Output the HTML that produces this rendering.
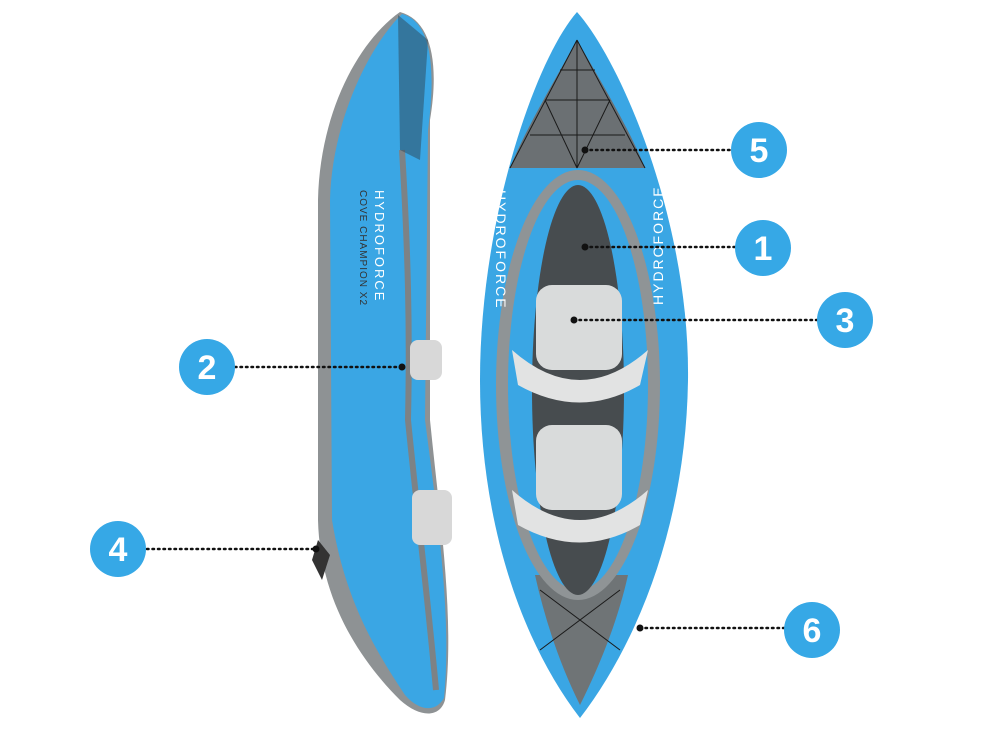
<!DOCTYPE html>
<html><head><style>html,body{margin:0;padding:0;background:#fff;width:1000px;height:750px;overflow:hidden}</style></head>
<body>
<svg width="1000" height="750" viewBox="0 0 1000 750" xmlns="http://www.w3.org/2000/svg" font-family="Liberation Sans, sans-serif">
<!-- Side kayak -->
<path d="M400,12 C430,20 440,60 430,120 L430,420 C440,520 455,620 445,700 C440,718 420,718 400,700 C360,660 320,600 318,520 L318,200 C320,110 360,40 400,12 Z" fill="#8e9294"/>
<path d="M402,14 C432,22 436,70 428,130 L425,420 C438,520 452,620 444,698 C436,712 420,712 405,695 C375,650 345,600 332,520 L330,200 C332,120 370,45 402,14 Z" fill="#3aa6e4"/>
<path d="M402,150 C408,250 410,330 408,420 C418,520 428,600 436,690" stroke="#7d8285" stroke-width="6" fill="none"/>
<path d="M398,15 L428,40 L420,160 L400,150 Z" fill="#2f4e62" opacity="0.55"/>
<rect x="410" y="340" width="32" height="40" rx="8" fill="#d8d8d8"/>
<rect x="412" y="490" width="40" height="55" rx="8" fill="#d8d8d8"/>
<path d="M318,540 L312,560 L322,580 L330,555 Z" fill="#333"/>
<text transform="translate(375,190) rotate(90)" fill="#fff" font-size="13" letter-spacing="2">HYDROFORCE</text>
<text transform="translate(360,190) rotate(90)" fill="#333" font-size="10" letter-spacing="1">COVE CHAMPION X2</text>
<!-- Top kayak -->
<path d="M577,12 C620,60 690,220 688,380 C686,520 640,640 580,718 C520,640 480,520 480,380 C480,220 535,60 577,12 Z" fill="#3aa6e4"/>
<path d="M577,40 C600,80 630,130 645,168 L510,168 C525,130 555,80 577,40 Z" fill="#6b7073"/>
<g stroke="#1a1a1a" stroke-width="1" fill="none">
<path d="M577,40 L510,168 M577,40 L645,168 M545,100 L610,100 M530,135 L625,135 M560,70 L595,70 M577,40 L577,168 M545,100 L577,168 M610,100 L577,168"/>
</g>
<path d="M535,575 L628,575 C618,620 600,665 580,705 C560,665 545,620 535,575 Z" fill="#6f7476"/>
<g stroke="#1a1a1a" stroke-width="1" fill="none"><path d="M540,590 L620,650 M620,590 L540,650"/></g>
<ellipse cx="578" cy="385" rx="82" ry="215" fill="#8f9496"/>
<ellipse cx="578" cy="385" rx="70" ry="205" fill="#3aa6e4"/>
<ellipse cx="578" cy="390" rx="46" ry="205" fill="#474c4f"/>
<rect x="536" y="285" width="86" height="85" rx="16" fill="#d9dbdb"/>
<path d="M512,350 Q580,410 648,350 L640,385 Q580,420 518,385 Z" fill="#e2e3e3"/>
<rect x="536" y="425" width="86" height="85" rx="16" fill="#d9dbdb"/>
<path d="M512,490 Q580,550 648,490 L640,525 Q580,560 518,525 Z" fill="#e2e3e3"/>
<text transform="translate(496,190) rotate(90)" fill="#fff" font-size="14" letter-spacing="2">HYDROFORCE</text>
<text transform="translate(663,305) rotate(-90)" fill="#fff" font-size="14" letter-spacing="2">HYDROFORCE</text>
<!-- connectors -->
<g stroke="#111" stroke-width="2.5" stroke-dasharray="1.5 4" stroke-linecap="round">
<line x1="585" y1="150" x2="731" y2="150"/>
<line x1="585" y1="247" x2="735" y2="247"/>
<line x1="574" y1="320" x2="817" y2="320"/>
<line x1="235" y1="367" x2="402" y2="367"/>
<line x1="147" y1="549" x2="316" y2="549"/>
<line x1="640" y1="628" x2="784" y2="628"/>
</g>
<g fill="#111">
<circle cx="585" cy="150" r="3.5"/><circle cx="585" cy="247" r="3.5"/><circle cx="574" cy="320" r="3.5"/>
<circle cx="402" cy="367" r="3.5"/><circle cx="316" cy="549" r="3.5"/><circle cx="640" cy="628" r="3.5"/>
</g>
<g fill="#36a8e6">
<circle cx="759" cy="150" r="28"/><circle cx="763" cy="248" r="28"/><circle cx="845" cy="320" r="28"/>
<circle cx="207" cy="367" r="28"/><circle cx="118" cy="549" r="28"/><circle cx="812" cy="630" r="28"/>
</g>
<g fill="#fff" font-size="34" font-weight="bold" text-anchor="middle">
<text x="759" y="162">5</text><text x="763" y="260">1</text><text x="845" y="332">3</text>
<text x="207" y="379">2</text><text x="118" y="561">4</text><text x="812" y="642">6</text>
</g>
</svg>
</body></html>
